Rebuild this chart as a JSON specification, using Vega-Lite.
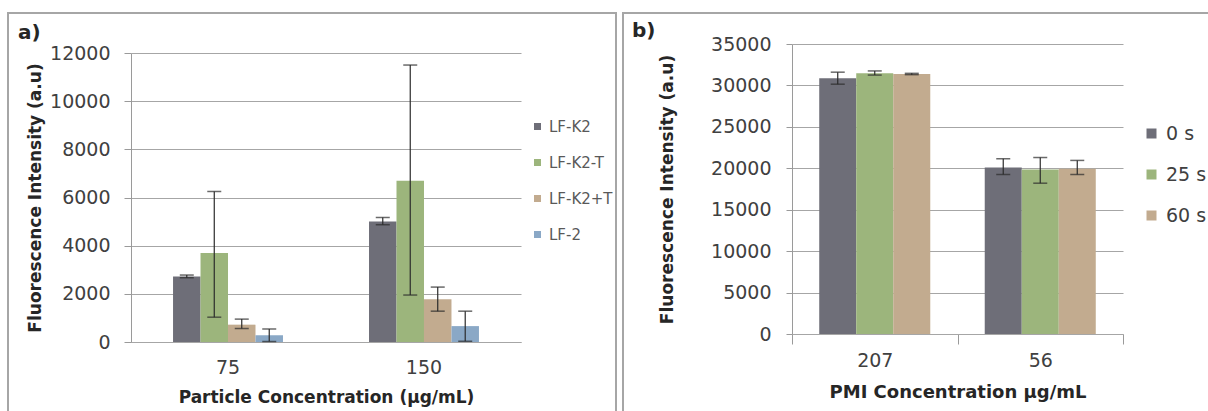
{
  "$schema": "https://vega.github.io/schema/vega-lite/v6.json",
  "padding": {"left": 7, "top": 12, "right": 0, "bottom": 0},
  "background": "white",
  "config": {
    "font": "DejaVu Sans",
    "view": {"stroke": "#a6a6a6", "strokeWidth": 2},
    "concat": {"spacing": 5},
    "axis": {
      "labelFont": "DejaVu Sans",
      "labelColor": "#404040",
      "titleColor": "#262626",
      "titleFontWeight": "bold",
      "domainColor": "#9a9a9a",
      "tickColor": "#9a9a9a",
      "gridColor": "#a6a6a6",
      "gridWidth": 1
    }
  },
  "resolve": {
    "scale": {"color": "independent", "xOffset": "independent", "x": "independent", "y": "independent"},
    "legend": {"color": "independent"},
    "axis": {"x": "independent", "y": "independent"}
  },
  "datasets": {
    "a": [
      {"conc": "75", "series": "LF-K2", "value": 2720, "lo": 2670, "hi": 2780},
      {"conc": "75", "series": "LF-K2-T", "value": 3700, "lo": 1030, "hi": 6250},
      {"conc": "75", "series": "LF-K2+T", "value": 720, "lo": 560, "hi": 950},
      {"conc": "75", "series": "LF-2", "value": 280, "lo": 20, "hi": 540},
      {"conc": "150", "series": "LF-K2", "value": 5000, "lo": 4870, "hi": 5170},
      {"conc": "150", "series": "LF-K2-T", "value": 6700, "lo": 1950, "hi": 11500},
      {"conc": "150", "series": "LF-K2+T", "value": 1780, "lo": 1280, "hi": 2280},
      {"conc": "150", "series": "LF-2", "value": 660, "lo": 30, "hi": 1280}
    ],
    "b": [
      {"conc": "207", "series": "0 s", "value": 30880, "lo": 30150, "hi": 31600},
      {"conc": "207", "series": "25 s", "value": 31480, "lo": 31250, "hi": 31750},
      {"conc": "207", "series": "60 s", "value": 31380, "lo": 31300, "hi": 31460},
      {"conc": "56", "series": "0 s", "value": 20100, "lo": 19250, "hi": 21150},
      {"conc": "56", "series": "25 s", "value": 19850, "lo": 18200, "hi": 21300},
      {"conc": "56", "series": "60 s", "value": 19950, "lo": 19250, "hi": 20950}
    ]
  },
  "hconcat": [
    {
      "width": 608,
      "height": 402,
      "title": {"text": "a)", "anchor": "start", "frame": "group", "baseline": "top", "offset": -30, "dx": 10, "fontSize": 20, "fontWeight": "bold", "color": "#262626"},
      "data": {"name": "a"},
      "encoding": {
        "x": {
          "field": "conc", "type": "nominal", "sort": ["75", "150"],
          "scale": {"range": [123, 513], "paddingInner": 0.439, "paddingOuter": 0.2145},
          "axis": {"offset": -73, "labelAngle": 0, "labelFontSize": 19, "labelPadding": 16, "ticks": false, "domainColor": "#a6a6a6", "title": "Particle Concentration (µg/mL)", "titleFontSize": 17, "titlePadding": 12}
        },
        "xOffset": {"field": "series", "type": "nominal", "sort": ["LF-K2", "LF-K2-T", "LF-K2+T", "LF-2"], "scale": {"paddingInner": 0, "paddingOuter": 0}}
      },
      "layer": [
        {
          "mark": {"type": "bar"},
          "encoding": {
            "y": {
              "field": "value", "type": "quantitative", "title": "Fluorescence Intensity (a.u)",
              "scale": {"domain": [0, 12000], "range": [329, 40]},
              "axis": {"offset": -123, "values": [0, 2000, 4000, 6000, 8000, 10000, 12000], "format": "d", "labelFontSize": 19, "tickSize": 7, "labelPadding": 14, "grid": true, "titleFontSize": 17, "titlePadding": 5}
            },
            "color": {
              "field": "series", "type": "nominal",
              "scale": {"domain": ["LF-K2", "LF-K2-T", "LF-K2+T", "LF-2"], "range": ["#6e6e78", "#9cb57c", "#c2ab8f", "#8aa8c6"]},
              "legend": {"orient": "none", "legendX": 522, "legendY": 106, "title": null, "symbolType": "square", "symbolSize": 49, "symbolStrokeWidth": 0, "labelFontSize": 15, "labelColor": "#595959", "rowPadding": 20, "labelOffset": 4, "padding": 0}
            }
          }
        },
        {
          "mark": {"type": "rule", "color": "#2b2b2b", "strokeWidth": 1.2},
          "encoding": {
            "y": {"field": "lo", "type": "quantitative", "title": "Fluorescence Intensity (a.u)", "scale": {"domain": [0, 12000], "range": [329, 40]}},
            "y2": {"field": "hi"}
          }
        },
        {
          "mark": {"type": "tick", "color": "#2b2b2b", "thickness": 1.5, "size": 14},
          "encoding": {
            "y": {"field": "lo", "type": "quantitative", "title": "Fluorescence Intensity (a.u)", "scale": {"domain": [0, 12000], "range": [329, 40]}}
          }
        },
        {
          "mark": {"type": "tick", "color": "#2b2b2b", "thickness": 1.5, "size": 14},
          "encoding": {
            "y": {"field": "hi", "type": "quantitative", "title": "Fluorescence Intensity (a.u)", "scale": {"domain": [0, 12000], "range": [329, 40]}}
          }
        }
      ]
    },
    {
      "width": 588,
      "height": 402,
      "title": {"text": "b)", "anchor": "start", "frame": "group", "baseline": "top", "offset": -28, "dx": 9, "fontSize": 20, "fontWeight": "bold", "color": "#262626"},
      "data": {"name": "b"},
      "encoding": {
        "x": {
          "field": "conc", "type": "nominal", "sort": ["207", "56"],
          "scale": {"range": [169, 500], "paddingInner": 0, "paddingOuter": 0},
          "axis": {"offset": -81, "labelAngle": 0, "labelFontSize": 19, "labelPadding": 7, "ticks": true, "tickBand": "extent", "tickSize": 10, "domainColor": "#a6a6a6", "title": "PMI Concentration µg/mL", "titleFontSize": 18, "titlePadding": 13}
        },
        "xOffset": {"field": "series", "type": "nominal", "sort": ["0 s", "25 s", "60 s"], "scale": {"paddingInner": 0, "paddingOuter": 0.736}}
      },
      "layer": [
        {
          "mark": {"type": "bar"},
          "encoding": {
            "y": {
              "field": "value", "type": "quantitative", "title": "Fluorescence Intensity (a.u)",
              "scale": {"domain": [0, 35000], "range": [321, 31]},
              "axis": {"offset": -169, "values": [0, 5000, 10000, 15000, 20000, 25000, 30000, 35000], "format": "d", "labelFontSize": 19, "tickSize": 6, "labelPadding": 15, "grid": true, "titleFontSize": 17, "titlePadding": 34}
            },
            "color": {
              "field": "series", "type": "nominal",
              "scale": {"domain": ["0 s", "25 s", "60 s"], "range": ["#6e6e78", "#9cb57c", "#c2ab8f"]},
              "legend": {"orient": "none", "legendX": 519, "legendY": 111, "title": null, "symbolType": "square", "symbolSize": 100, "symbolStrokeWidth": 0, "labelFontSize": 19, "labelColor": "#404040", "rowPadding": 21, "labelOffset": 5, "padding": 0}
            }
          }
        },
        {
          "mark": {"type": "rule", "color": "#2b2b2b", "strokeWidth": 1.2},
          "encoding": {
            "y": {"field": "lo", "type": "quantitative", "title": "Fluorescence Intensity (a.u)", "scale": {"domain": [0, 35000], "range": [321, 31]}},
            "y2": {"field": "hi"}
          }
        },
        {
          "mark": {"type": "tick", "color": "#2b2b2b", "thickness": 1.5, "size": 14},
          "encoding": {
            "y": {"field": "lo", "type": "quantitative", "title": "Fluorescence Intensity (a.u)", "scale": {"domain": [0, 35000], "range": [321, 31]}}
          }
        },
        {
          "mark": {"type": "tick", "color": "#2b2b2b", "thickness": 1.5, "size": 14},
          "encoding": {
            "y": {"field": "hi", "type": "quantitative", "title": "Fluorescence Intensity (a.u)", "scale": {"domain": [0, 35000], "range": [321, 31]}}
          }
        }
      ]
    }
  ]
}
